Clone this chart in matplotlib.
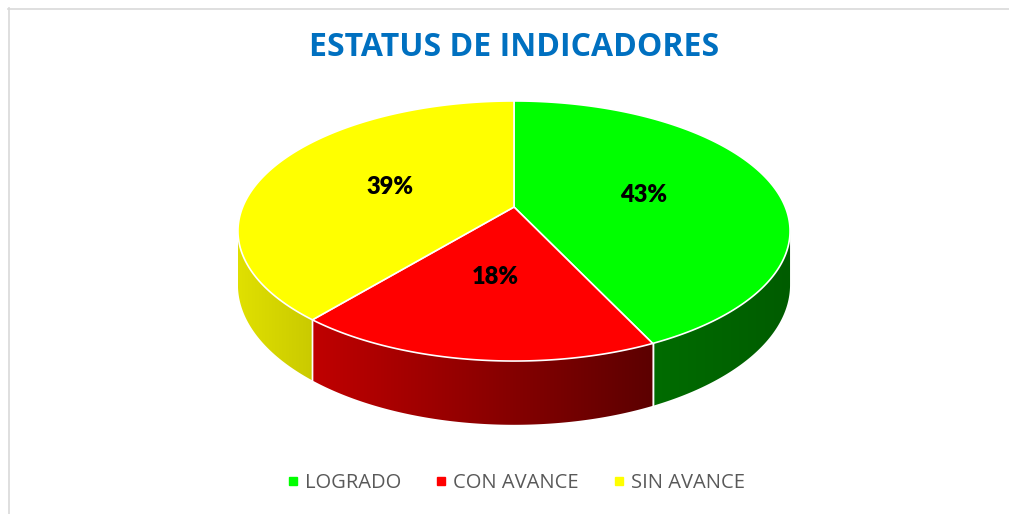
import numpy as np
import matplotlib
matplotlib.use("Agg")
import matplotlib.pyplot as plt
from matplotlib.patches import Polygon
from matplotlib.lines import Line2D

# ---- data ----
categories = ["LOGRADO", "CON AVANCE", "SIN AVANCE"]
values = [43, 18, 39]
labels = ["43%", "18%", "39%"]
top_colors = ["#00FF00", "#FF0000", "#FFFF00"]
side_left = [(0/255, 108/255, 0/255), (192/255, 0, 0), (224/255, 224/255, 0)]
side_right = [(0, 92/255, 0), (92/255, 0, 0), (202/255, 202/255, 0)]
title = "ESTATUS DE INDICADORES"

W, H = 1009, 514
fig = plt.figure(figsize=(W / 100, H / 100), dpi=100)
ax = fig.add_axes([0, 0, 1, 1])
ax.set_xlim(0, W)
ax.set_ylim(H, 0)
ax.axis("off")

# perspective disc projection parameters
cx, cy = 514.0, 207.0
A, B, K = 271.3, 125.6, 0.1846
DEPTH = 52.0


def proj(theta_deg, r=1.0, bottom=False):
    t = np.radians(theta_deg)
    u = r * np.sin(t)
    v = -r * np.cos(t)
    w = 1 - K * v
    x = cx + A * u / w
    y = cy + B * v / w
    if bottom:
        y = y + DEPTH / w
    return x, y


total = float(sum(values))
bounds = np.concatenate([[0], np.cumsum(values) / total * 360.0])
vis_lo = 180 - np.degrees(np.arccos(K))
vis_hi = 180 + np.degrees(np.arccos(K))

# sides with horizontal gradient
for i in range(len(values)):
    a0, a1 = max(bounds[i], vis_lo), min(bounds[i + 1], vis_hi)
    if a1 <= a0:
        continue
    ts = np.linspace(a0, a1, 200)
    xs_t, ys_t = proj(ts)
    xs_b, ys_b = proj(ts, bottom=True)
    pts = list(zip(xs_t, ys_t)) + list(zip(xs_b[::-1], ys_b[::-1]))
    poly = Polygon(pts, closed=True, facecolor="none", edgecolor="none")
    ax.add_patch(poly)
    xl, xr = min(xs_t.min(), xs_b.min()), max(xs_t.max(), xs_b.max())
    yt, yb = min(ys_t.min(), ys_b.min()), max(ys_t.max(), ys_b.max())
    f = np.linspace(0, 1, 256)
    c0 = np.array(side_left[i])
    c1 = np.array(side_right[i])
    grad = (c0[None, :] + (c1 - c0)[None, :] * f[:, None])[None, :, :]
    im = ax.imshow(grad, extent=(xl, xr, yb, yt), aspect="auto",
                   interpolation="bilinear", zorder=2)
    im.set_clip_path(poly)
    for a in (bounds[i], bounds[i + 1]):
        if vis_lo < a < vis_hi:
            xt0, yt0 = proj(a)
            xb0, yb0 = proj(a, bottom=True)
            ax.plot([xt0, xb0], [yt0, yb0], color="white", lw=1.0, zorder=3)

ax.set_xlim(0, W)
ax.set_ylim(H, 0)

# tops
for i in range(len(values)):
    ts = np.linspace(bounds[i], bounds[i + 1], 200)
    xs, ys = proj(ts)
    pts = [(cx, cy)] + list(zip(xs, ys))
    ax.add_patch(Polygon(pts, closed=True, facecolor=top_colors[i],
                         edgecolor="white", linewidth=1.2, zorder=4))
    mid = (bounds[i] + bounds[i + 1]) / 2
    lx, ly = proj(mid, r=0.5)
    ax.text(lx, ly + 1, labels[i], ha="center", va="center", fontsize=17,
            fontweight="heavy", family="Lato", color="black", zorder=6)

# title
ax.text(514, 47, title, ha="center", va="center", fontsize=23,
        fontweight="bold", family="Open Sans", color="#0070C0")

# frame lines (top / left)
ax.plot([8, W], [8.5, 8.5], color="#D9D9D9", lw=1.2)
ax.plot([8.5, 8.5], [8, H], color="#D9D9D9", lw=1.2)

handles = [Line2D([0], [0], marker="s", linestyle="none", markersize=6,
                  markerfacecolor=c, markeredgecolor=c) for c in top_colors]
leg = fig.legend(handles, categories, loc="center", ncol=3,
                 bbox_to_anchor=(514 / W, 1 - 483 / H), frameon=False,
                 prop={"family": "Open Sans", "size": 14.5},
                 handletextpad=0.1, columnspacing=1.5, handlelength=1.0)
for t in leg.get_texts():
    t.set_color("#595959")

fig.savefig("out.png", dpi=100)
